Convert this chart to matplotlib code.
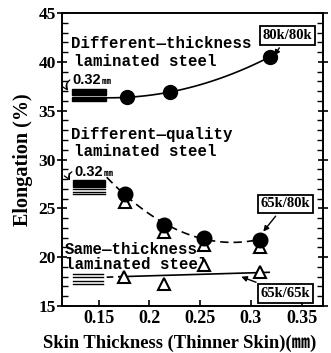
import numpy as np
import matplotlib
matplotlib.use("Agg")
import matplotlib.pyplot as plt
from matplotlib.patches import Rectangle

# ---- data ----
dt_x = [0.178, 0.2205, 0.3185]          # different-thickness (filled circles)
dt_y = [36.4, 36.9, 40.5]
dq_x = [0.176, 0.2147, 0.254, 0.309]    # different-quality (filled circles)
dq_y = [26.45, 23.3, 22.0, 21.8]
dq_tri_y = [25.7, 22.6, 21.25, 21.0]    # triangles under circles
st_x = [0.175, 0.2147, 0.254, 0.309]    # same-thickness (open triangles)
st_y = [17.95, 17.3, 19.2, 18.5]
st_trend_x = [0.17, 0.318]              # drawn trend line for same-thickness
st_trend_y = [18.0, 18.45]

xticks = [0.15, 0.2, 0.25, 0.3, 0.35]
xtick_labels = ["0.15", "0.2", "0.25", "0.3", "0.35"]
yticks = [15, 20, 25, 30, 35, 40, 45]

MONO = ["Liberation Mono", "Noto Sans CJK JP", "DejaVu Sans"]
SERIF = ["Liberation Serif", "Noto Sans CJK JP", "DejaVu Sans"]
SANS = ["Liberation Sans", "Noto Sans CJK JP"]

fig = plt.figure(figsize=(3.31, 3.53), dpi=100)
ax = fig.add_axes([0.1873, 0.1331, 0.7885, 0.8301])
ax.set_xlim(0.114, 0.371)
ax.set_ylim(15, 45)

# trend curves
xx = np.linspace(0.158, 0.3185, 100)
c = np.polyfit(dt_x + [0.158], dt_y + [36.3], 2)
ax.plot(xx, np.polyval(c, xx), color="black", lw=1.2, zorder=2)

xx2 = np.linspace(0.158, 0.309, 100)
c2 = np.polyfit(dq_x, dq_y, 2)
ax.plot(xx2, np.polyval(c2, xx2), color="black", lw=1.2, ls=(0, (5, 3)), zorder=2)

ax.plot(st_trend_x, st_trend_y, color="black", lw=1.2, zorder=2)
ax.plot([0.158, st_trend_x[0]], [st_trend_y[0] - 0.05, st_trend_y[0]],
        color="black", lw=1.2, ls=(0, (4, 3)), zorder=2)

# markers
ax.plot(dt_x, dt_y, "o", color="black", ms=10, zorder=4)
ax.plot(dq_x, dq_tri_y, "^", mfc="white", mec="black", mew=1.5, ms=9, zorder=3)
ax.plot(dq_x, dq_y, "o", color="black", ms=10.5, zorder=4)
ax.plot(st_x, st_y, "^", mfc="white", mec="black", mew=1.5, ms=9, zorder=4)

# laminated steel icons
ax.add_patch(Rectangle((0.1235, 36.6), 0.034, 0.6, color="black", zorder=3))
ax.add_patch(Rectangle((0.1235, 35.95), 0.034, 0.45, color="black", zorder=3))
ax.add_patch(Rectangle((0.125, 27.2), 0.031, 0.7, color="black", zorder=3))
for yv in [26.95, 26.7, 26.45]:
    ax.plot([0.125, 0.156], [yv, yv], color="black", lw=1.0)
for yv in [18.3, 17.95, 17.6, 17.3]:
    ax.plot([0.1245, 0.1545], [yv, yv], color="black", lw=1.0)

# labels
tkw = dict(family=MONO, fontsize=11.3, fontweight="bold", va="center", ha="left")
ax.text(0.1225, 41.9, "Different—thickness", **tkw)
ax.text(0.126, 40.0, "laminated steel", **tkw)
ax.text(0.1225, 32.6, "Different—quality", **tkw)
ax.text(0.126, 30.8, "laminated steel", **tkw)
ax.text(0.1165, 20.8, "Same—thickness", **tkw)
ax.text(0.1165, 19.2, "laminated steel", **tkw)

ax.text(0.1245, 38.1, "0.32", family=SANS, fontsize=10.5, fontweight="bold", va="center")
ax.text(0.1535, 37.95, "㎜", family=["Noto Sans CJK JP"], fontsize=6.5, fontweight="bold", va="center")
ax.text(0.1265, 28.75, "0.32", family=SANS, fontsize=10.5, fontweight="bold", va="center")
ax.text(0.1555, 28.6, "㎜", family=["Noto Sans CJK JP"], fontsize=6.5, fontweight="bold", va="center")
ax.annotate("", xy=(0.1215, 36.8), xytext=(0.1240, 38.3),
            arrowprops=dict(arrowstyle="->", lw=0.9, connectionstyle="arc3,rad=0.6"))
ax.annotate("", xy=(0.1235, 27.6), xytext=(0.1260, 28.9),
            arrowprops=dict(arrowstyle="->", lw=0.9, connectionstyle="arc3,rad=0.6"))

bkw = dict(family=SERIF, fontsize=10.5, fontweight="bold", ha="center", va="center",
           bbox=dict(boxstyle="square,pad=0.2", fc="white", ec="black", lw=1.3))
ap = dict(arrowstyle="-|>", lw=1.0, color="black", mutation_scale=8)
ax.annotate("80k/80k", xy=(0.3215, 40.4), xytext=(0.336, 42.7), arrowprops=ap, **bkw)
ax.annotate("65k/80k", xy=(0.3105, 22.4), xytext=(0.334, 25.45), arrowprops=ap, **bkw)
ax.annotate("65k/65k", xy=(0.288, 18.1), xytext=(0.334, 16.3), arrowprops=ap, **bkw)

# axes styling
for s in ax.spines.values():
    s.set_linewidth(1.4)
ax.set_xticks(xticks)
ax.set_xticklabels(xtick_labels)
ax.set_yticks(yticks)
ax.set_xticks([0.125, 0.175, 0.225, 0.275, 0.325], minor=True)
ax.set_yticks([v for v in range(15, 46) if v % 5], minor=True)
ax.tick_params(axis="y", which="major", direction="inout", length=7, width=1.2,
               right=True, labelsize=12.5, pad=1)
ax.tick_params(axis="y", which="minor", direction="in", length=4, width=1.0, right=True)
ax.tick_params(axis="x", which="major", direction="in", length=4, width=1.2, labelsize=13, pad=3)
ax.tick_params(axis="x", which="minor", length=0)
for lab in ax.get_xticklabels() + ax.get_yticklabels():
    lab.set_family(SERIF)
    lab.set_fontweight("bold")

ax.set_ylabel("Elongation (%)", family=SERIF, fontsize=14.5, fontweight="bold", labelpad=4)
fig.text(0.13, 0.028, "Skin Thickness (Thinner Skin)(㎜)", family=SERIF,
         fontsize=13.3, fontweight="bold", ha="left", va="center")

fig.savefig("out.png", dpi=100, facecolor="white")
